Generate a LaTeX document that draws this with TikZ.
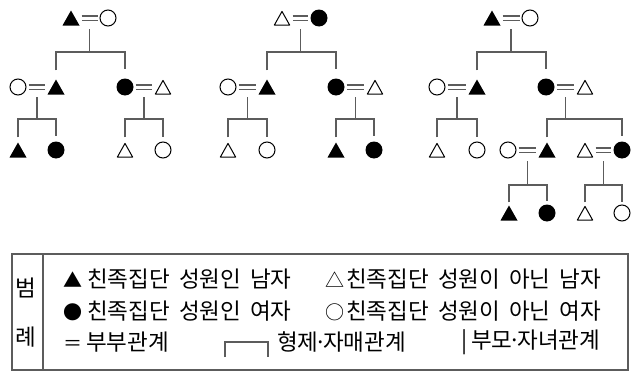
\documentclass[tikz,border=0pt]{standalone}
\usepackage{fontspec}
\newfontfamily\kor[WordSpace=1.8]{Noto Sans CJK KR}
\definecolor{lc}{HTML}{5C5C5C}
\newcommand\symb[1]{{\fontsize{19}{24}\selectfont #1}}

\tikzstyle{tri} = [rectangle, inner sep=0pt, minimum width=17pt, minimum height=15pt]
\tikzstyle{mmem} = [tri, path picture={\fill (path picture bounding box.north) -- (path picture bounding box.south west) -- (path picture bounding box.south east) -- cycle;}]
\tikzstyle{mout} = [tri, path picture={\draw[line width=1pt, line join=round] ([yshift=-0.9pt]path picture bounding box.north) -- ([shift={(0.9pt,0.5pt)}]path picture bounding box.south west) -- ([shift={(-0.9pt,0.5pt)}]path picture bounding box.south east) -- cycle;}]
\tikzstyle{fmem} = [circle, inner sep=0pt, minimum size=17pt, fill=black]
\tikzstyle{fout} = [circle, inner sep=0pt, minimum size=16pt, draw=black, line width=1pt]
\tikzstyle{marry} = [draw=lc, line width=1.3pt, double=white, double distance=3pt, shorten <=2pt, shorten >=2pt]
\tikzstyle{kin} = [draw=lc, line width=1.3pt]
\tikzstyle{legend} = [anchor=west, inner sep=0pt, font=\kor\fontsize{22.5}{26}\selectfont]

\begin{document}
\begin{tikzpicture}[x=1pt, y=-1pt]
\useasboundingbox (0,0) rectangle (633,372);

\node (gf1) [mmem] at (71,18) {};
\node (gm1) [fout] at (108,18) {};
\node (sw1) [fout] at (18,87) {};
\node (s1) [mmem] at (56,87) {};
\node (d1) [fmem] at (125,87) {};
\node (dh1) [mout] at (163,87) {};
\node (ss1) [mmem] at (18,150) {};
\node (sd1) [fmem] at (56,150) {};
\node (ds1) [mout] at (125,150) {};
\node (dd1) [fout] at (163,150) {};
\coordinate (p1) at (89.5,18);
\coordinate (b1) at (89.5,52);
\coordinate (ps1) at (37,87);
\coordinate (bs1) at (37,119);
\coordinate (pd1) at (144,87);
\coordinate (bd1) at (144,119);

\node (gf2) [mout] at (282,18) {};
\node (gm2) [fmem] at (319,18) {};
\node (sw2) [fout] at (228,87) {};
\node (s2) [mmem] at (267,87) {};
\node (d2) [fmem] at (336,87) {};
\node (dh2) [mout] at (375,87) {};
\node (ss2) [mout] at (228,150) {};
\node (sd2) [fout] at (267,150) {};
\node (ds2) [mmem] at (336,150) {};
\node (dd2) [fmem] at (374,150) {};
\coordinate (p2) at (300.5,18);
\coordinate (b2) at (300.5,52);
\coordinate (ps2) at (247.5,87);
\coordinate (bs2) at (247.5,119);
\coordinate (pd2) at (355.5,87);
\coordinate (bd2) at (355.5,119);

\node (gf3) [mmem] at (492,18) {};
\node (gm3) [fout] at (530,18) {};
\node (sw3) [fout] at (437,87) {};
\node (s3) [mmem] at (477,87) {};
\node (d3) [fmem] at (546,87) {};
\node (dh3) [mout] at (585,87) {};
\node (ss3) [mout] at (437,150) {};
\node (sd3) [fout] at (477,150) {};
\node (dsw3) [fout] at (508,150) {};
\node (ds3) [mmem] at (547,150) {};
\node (ddh3) [mout] at (585,150) {};
\node (dd3) [fmem] at (622,150) {};
\node (dss3) [mmem] at (509,213) {};
\node (dsd3) [fmem] at (547,213) {};
\node (dds3) [mout] at (585,213) {};
\node (ddd3) [fout] at (622,213) {};
\coordinate (p3) at (511,18);
\coordinate (b3) at (511,52);
\coordinate (ps3) at (457,87);
\coordinate (bs3) at (457,119);
\coordinate (pd3) at (565.5,87);
\coordinate (bd3) at (565.5,119);
\coordinate (pds3) at (527.5,150);
\coordinate (bds3) at (527.5,185);
\coordinate (pdd3) at (603.5,150);
\coordinate (bdd3) at (603.5,185);

\draw [marry] (gf1) -- (gm1);
\draw [marry] (sw1) -- (s1);
\draw [marry] (d1) -- (dh1);
\draw [kin, shorten <=11pt] (p1) -- (b1);
\draw [kin, shorten <=10pt] (ps1) -- (bs1);
\draw [kin, shorten <=10pt] (pd1) -- (bd1);
\draw [kin, shorten <=9pt, shorten >=9pt] (s1) |- (b1) -| (d1);
\draw [kin, shorten <=5pt, shorten >=5pt] (ss1) |- (bs1) -| (sd1);
\draw [kin, shorten <=5pt, shorten >=5pt] (ds1) |- (bd1) -| (dd1);

\draw [marry] (gf2) -- (gm2);
\draw [marry] (sw2) -- (s2);
\draw [marry] (d2) -- (dh2);
\draw [kin, shorten <=11pt] (p2) -- (b2);
\draw [kin, shorten <=10pt] (ps2) -- (bs2);
\draw [kin, shorten <=10pt] (pd2) -- (bd2);
\draw [kin, shorten <=9pt, shorten >=9pt] (s2) |- (b2) -| (d2);
\draw [kin, shorten <=5pt, shorten >=5pt] (ss2) |- (bs2) -| (sd2);
\draw [kin, shorten <=5pt, shorten >=5pt] (ds2) |- (bd2) -| (dd2);

\draw [marry] (gf3) -- (gm3);
\draw [marry] (sw3) -- (s3);
\draw [marry] (d3) -- (dh3);
\draw [marry] (dsw3) -- (ds3);
\draw [marry] (ddh3) -- (dd3);
\draw [kin, shorten <=11pt] (p3) -- (b3);
\draw [kin, shorten <=10pt] (ps3) -- (bs3);
\draw [kin, shorten <=10pt] (pd3) -- (bd3);
\draw [kin, shorten <=11pt] (pds3) -- (bds3);
\draw [kin, shorten <=11pt] (pdd3) -- (bdd3);
\draw [kin, shorten <=9pt, shorten >=9pt] (s3) |- (b3) -| (d3);
\draw [kin, shorten <=5pt, shorten >=5pt] (ss3) |- (bs3) -| (sd3);
\draw [kin, shorten <=5pt, shorten >=5pt] (ds3) |- (bd3) -| (dd3);
\draw [kin, shorten <=3pt, shorten >=3pt] (dss3) |- (bds3) -| (dsd3);
\draw [kin, shorten <=3pt, shorten >=3pt] (dds3) |- (bdd3) -| (ddd3);

\draw [kin] (12,254) rectangle (628,370);
\draw [kin] (43,254) -- (43,370);
\node (beom) [legend, anchor=center] at (25.5,288) {범};
\node (rye) [legend, anchor=center] at (25.5,337) {례};
\node (lmm) [legend] at (63,279) {\symb{▲}\hspace{5pt}친족집단 성원인 남자};
\node (lmo) [legend] at (325,279) {\symb{△}\hspace{2pt}친족집단 성원이 아닌 남자};
\node (lfm) [legend] at (63,311) {\symb{●}\hspace{5pt}친족집단 성원인 여자};
\node (lfo) [legend] at (325,311) {\symb{○}\hspace{2pt}친족집단 성원이 아닌 여자};
\node (lmar) [legend] at (63,342) {\symb{＝}\hspace{4pt}부부관계};
\draw [kin] (225,357) |- (268,342) -- (268,357);
\node (lsib) [legend] at (277,342) {형제\kern-4pt·\kern-4pt자매관계};
\node (lpar) [legend] at (461,342) {|\hspace{4pt}부모\kern-4pt·\kern-4pt자녀관계};
\end{tikzpicture}
\end{document}
